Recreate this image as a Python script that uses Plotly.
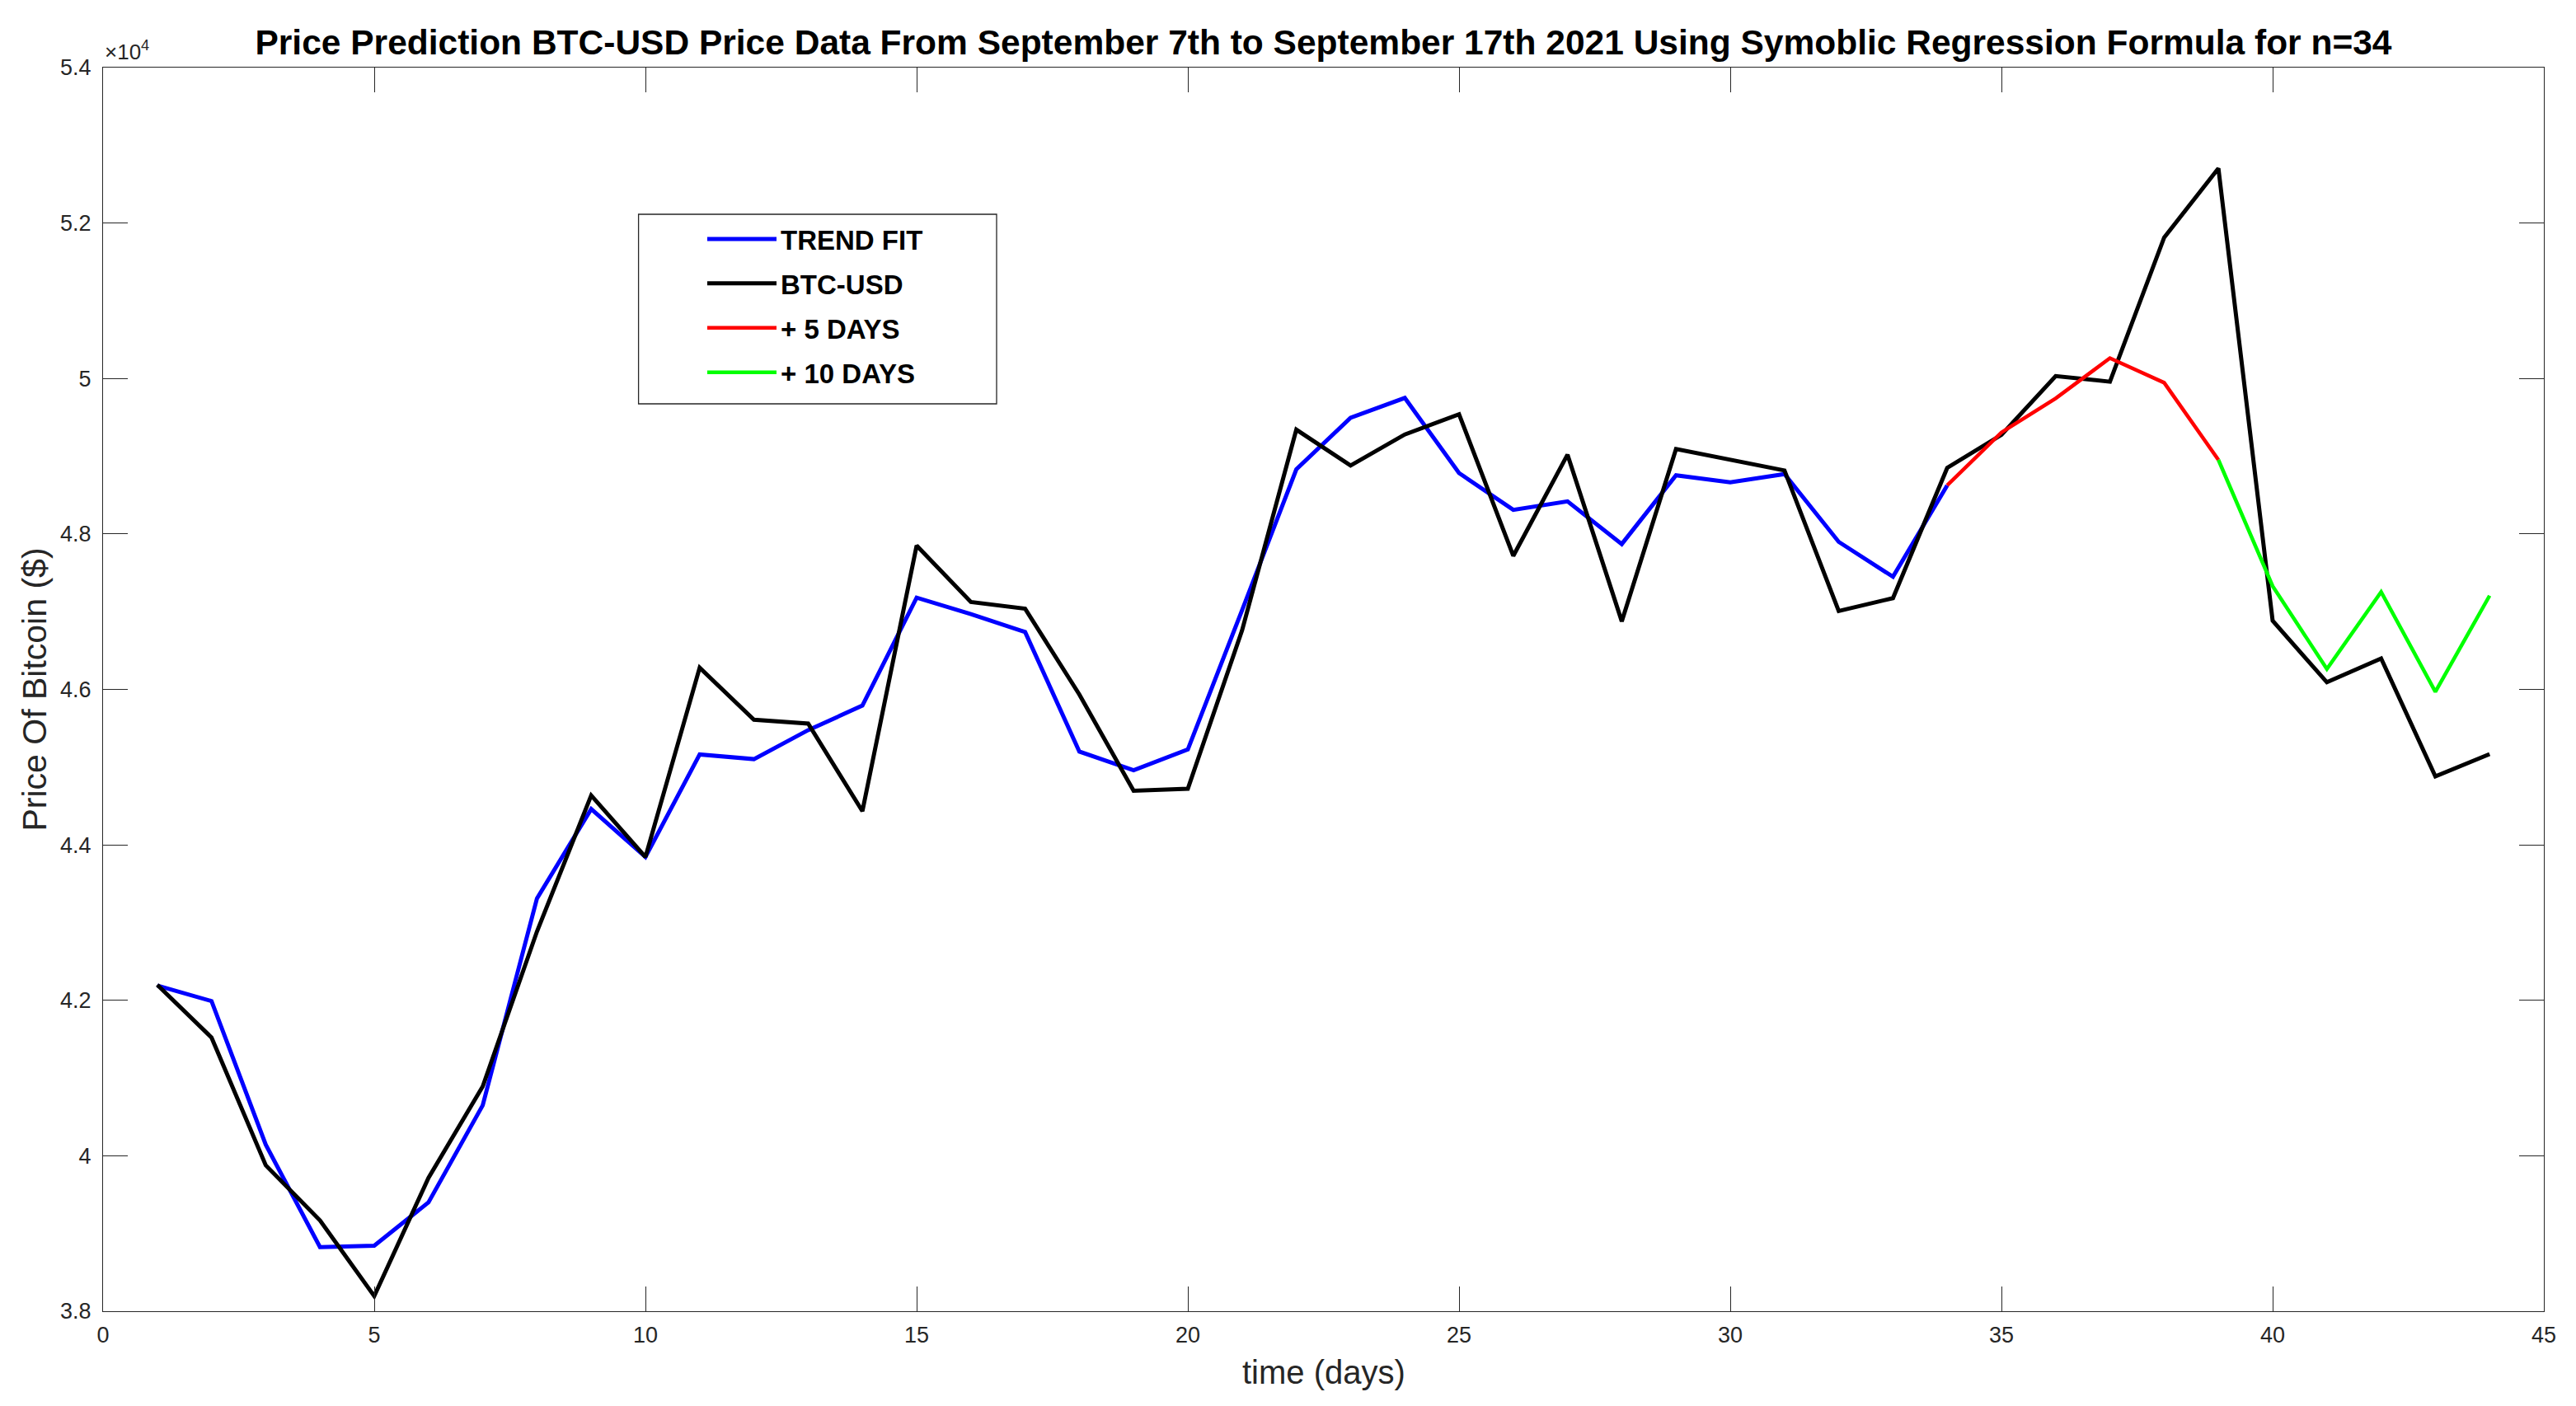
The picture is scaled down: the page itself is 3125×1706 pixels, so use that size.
import plotly.graph_objects as go

# ---- data (USD) ----
days_fit = list(range(1, 35))
trend_fit = [42190, 41990, 40142, 38824, 38844, 39400, 40649, 43310, 44461, 43844,
             45163, 45103, 45476, 45792, 47180, 46969, 46738, 45200, 44960, 45227,
             47020, 48831, 49494, 49750, 48783, 48310, 48419, 47870, 48755, 48665,
             48770, 47898, 47449, 48625]

days_btc = list(range(1, 45))
btc_usd = [42199, 41521, 39878, 39168, 38195, 39716, 40892, 42885, 44636, 43844,
           46280, 45610, 45561, 44433, 47851, 47124, 47038, 45934, 44697, 44722,
           46760, 49342, 48880, 49280, 49540, 47718, 49020, 46876, 49092, 48949,
           48817, 47009, 47174, 48850, 49275, 50031, 49959, 51814, 52703, 46883,
           46092, 46397, 44881, 45167]

days_5 = list(range(34, 40))
plus_5 = [48625, 49306, 49744, 50262, 49946, 48953]

days_10 = list(range(39, 45))
plus_10 = [48953, 47328, 46263, 47255, 45970, 47206]

x_ticks = [0, 5, 10, 15, 20, 25, 30, 35, 40, 45]
y_tickvals = [38000, 40000, 42000, 44000, 46000, 48000, 50000, 52000, 54000]
y_ticktext = ["3.8", "4", "4.2", "4.4", "4.6", "4.8", "5", "5.2", "5.4"]

TITLE = ("Price Prediction BTC-USD Price Data From September 7th to September 17th "
         "2021 Using Symoblic Regression Formula for n=34")

FONT = "Liberation Sans, Arial, Helvetica, sans-serif"
AX = "#262626"

# page body has an 8px margin, so the figure is drawn 8px smaller
W, H = 3117, 1698
ML, MR, MT, MB = 117, 39, 74, 115
PW, PH = W - ML - MR, H - MT - MB

fig = go.Figure()
fig.add_trace(go.Scatter(x=days_fit, y=trend_fit, mode="lines", name="TREND FIT",
                         line=dict(color="#0000FF", width=5), legendgroup="a"))
fig.add_trace(go.Scatter(x=days_btc, y=btc_usd, mode="lines", name="BTC-USD",
                         line=dict(color="#000000", width=5), legendgroup="b"))
fig.add_trace(go.Scatter(x=days_5, y=plus_5, mode="lines", name="+ 5 DAYS",
                         line=dict(color="#FF0000", width=4.5), legendgroup="c"))
fig.add_trace(go.Scatter(x=days_10, y=plus_10, mode="lines", name="+ 10 DAYS",
                         line=dict(color="#00FF00", width=4.5), legendgroup="d"))

axis_common = dict(showline=True, linecolor=AX, linewidth=1.3, mirror="ticks",
                   ticks="inside", ticklen=30, tickwidth=1.2, tickcolor=AX,
                   showgrid=False, zeroline=False, automargin=False,
                   tickfont=dict(family=FONT, size=27, color=AX))

fig.update_xaxes(range=[0, 45], tickvals=x_ticks, ticklabelstandoff=4, **axis_common)
fig.update_yaxes(range=[38000, 54000], tickvals=y_tickvals, ticktext=y_ticktext,
                 ticklabelstandoff=8, **axis_common)

# legend frame (full-image px -> paper fractions)
def px_x(px):
    return (px - 8 - ML) / PW

def px_y(py):
    return (H + 8 - MB - py) / PH

fig.update_layout(
    width=W, height=H,
    margin=dict(l=ML, r=MR, t=MT, b=MB),
    paper_bgcolor="white", plot_bgcolor="white",
    font=dict(family=FONT, color=AX),
    title=dict(text=TITLE, x=0.5, xref="paper", xanchor="center",
               y=1 - 43 / H, yref="container", yanchor="middle",
               font=dict(family=FONT, size=42.5, color="black", weight="bold")),
    legend=dict(x=px_x(853), y=px_y(262), xanchor="left", yanchor="top",
                bgcolor="rgba(0,0,0,0)", borderwidth=0,
                font=dict(family=FONT, size=33, color="black", weight="bold"),
                traceorder="grouped", tracegroupgap=8, itemwidth=84),
    showlegend=True,
    shapes=[dict(type="rect", xref="paper", yref="paper",
                 x0=px_x(774.6), x1=px_x(1209), y0=px_y(490), y1=px_y(260),
                 line=dict(color=AX, width=1.3), fillcolor="white", layer="above")],
    annotations=[
        dict(text="time (days)", xref="paper", yref="paper", x=0.5, y=0,
             xanchor="center", yanchor="middle", yshift=-(1665 - 1591),
             showarrow=False, font=dict(family=FONT, size=40, color=AX)),
        dict(text="Price Of Bitcoin ($)", xref="paper", yref="paper", x=0, y=0.5,
             xanchor="center", yanchor="middle", xshift=-84, textangle=-90,
             showarrow=False, font=dict(family=FONT, size=41, color=AX)),
        dict(text="\u00d710<sup>4</sup>", xref="paper", yref="paper", x=0, y=1,
             xanchor="left", yanchor="bottom", yshift=2,
             showarrow=False, font=dict(family=FONT, size=26, color=AX)),
    ],
)

fig.write_html("out.html")
